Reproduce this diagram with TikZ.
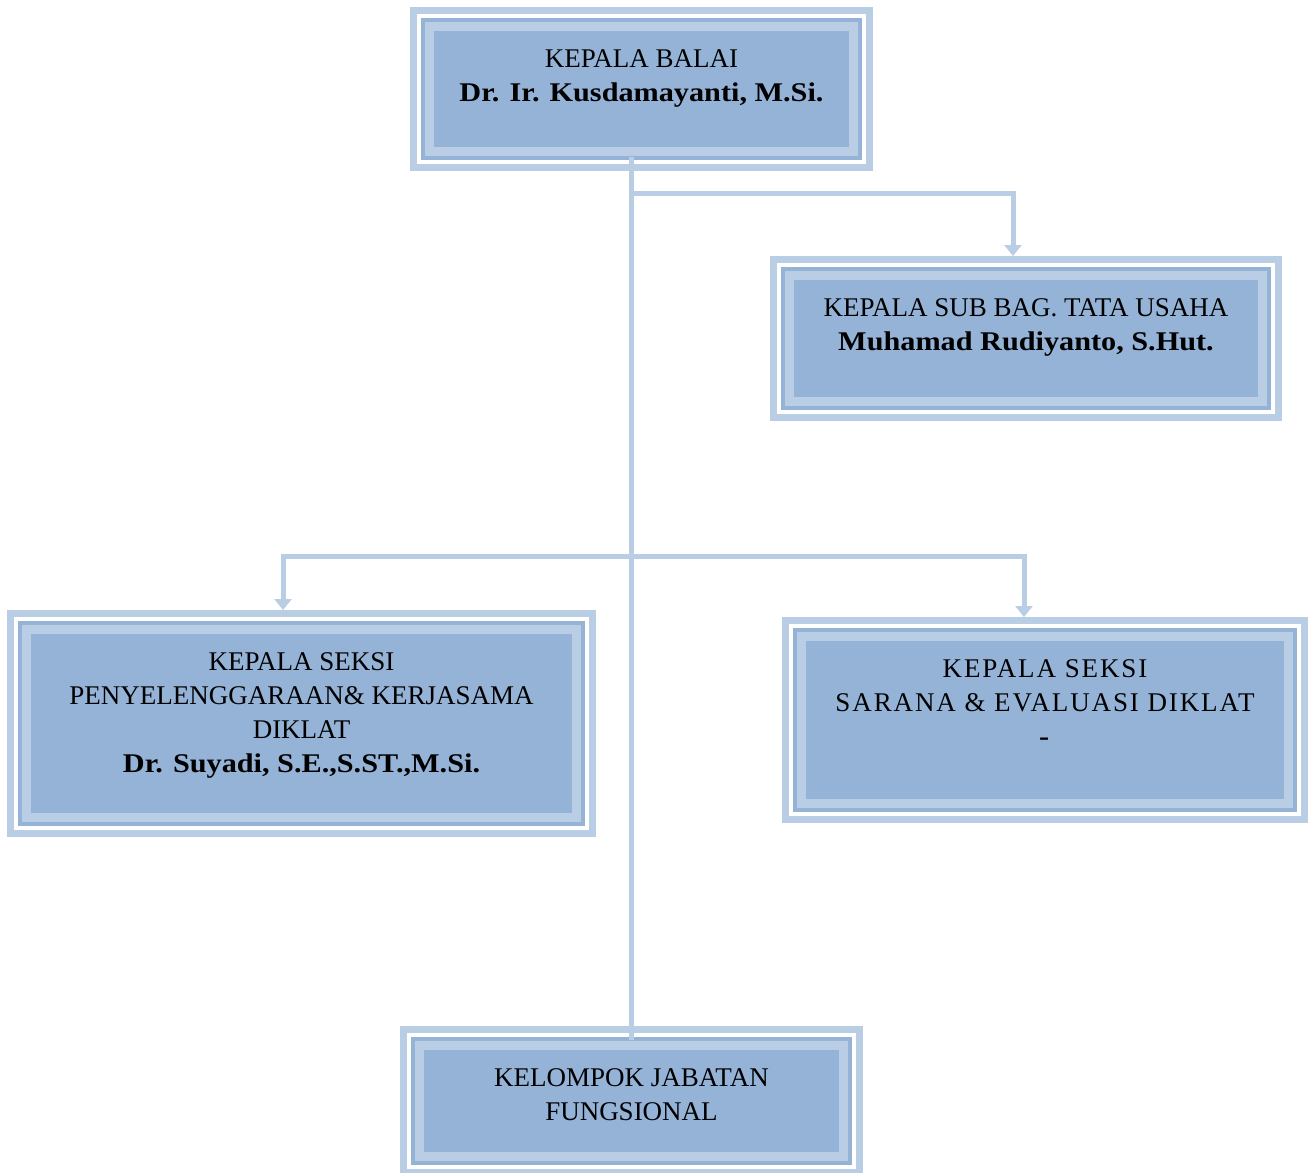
\documentclass[tikz,border=0pt]{standalone}
\usepackage{fontspec}
\setmainfont{Liberation Serif}[BoldFeatures={FakeStretch=1.12}]
\usetikzlibrary{positioning,arrows.meta}
\definecolor{bandlight}{HTML}{B9CDE5}
\definecolor{banddark}{HTML}{95B3D7}

% inner frames of a box
\newcommand{\orgframe}[1]{%
  \fill[white] ([shift={(7,7)}]#1.north west) rectangle ([shift={(-7,-7)}]#1.south east);
  \fill[banddark] ([shift={(11,11)}]#1.north west) rectangle ([shift={(-11,-11)}]#1.south east);
  \fill[bandlight] ([shift={(15,15)}]#1.north west) rectangle ([shift={(-15,-15)}]#1.south east);
  \fill[banddark] ([shift={(24,24)}]#1.north west) rectangle ([shift={(-24,-24)}]#1.south east);
}

\begin{document}
\begin{tikzpicture}[x=1pt, y=-1pt,
  orgbox/.style={fill=bandlight, inner sep=0pt, outer sep=0pt},
  txt/.style={inner sep=0pt, align=center, font=\fontsize{27}{34}\selectfont},
  txtwide/.style={txt, font=\fontsize{27}{34}\selectfont\addfontfeatures{LetterSpace=7}},
  conn/.style={draw=bandlight, line width=5pt},
  arr/.style={-{Triangle[width=17pt,length=11pt]}}]
  \useasboundingbox (0,0) rectangle (1315,1173);
  \clip (0,0) rectangle (1315,1173);

  \node[orgbox, minimum width=463, minimum height=164] (kb) at (641.5,89) {};
  \node[orgbox, minimum width=512, minimum height=165] (sbtu) at (1026,338.5) {};
  \node[orgbox, minimum width=589, minimum height=227] (sps) at (301.5,723.5) {};
  \node[orgbox, minimum width=526, minimum height=206] (sse) at (1045,720) {};
  \node[orgbox, minimum width=463, minimum height=150] (kjf) at (631.5,1101) {};
  \orgframe{kb}
  \orgframe{sbtu}
  \orgframe{sps}
  \orgframe{sse}
  \orgframe{kjf}

  \node[txt, below=42pt of kb.north] (kb-t) {KEPALA BALAI\\\textbf{Dr. Ir. Kusdamayanti, M.Si.}};
  \node[txt, below=42pt of sbtu.north] (sbtu-t) {KEPALA SUB BAG. TATA USAHA\\\textbf{Muhamad Rudiyanto, S.Hut.}};
  \node[txt, below=42pt of sps.north] (sps-t) {KEPALA SEKSI\\PENYELENGGARAAN\& KERJASAMA\\DIKLAT\\\textbf{Dr. Suyadi, S.E.,S.ST.,M.Si.}};
  \node[txtwide, below=42pt of sse.north] (sse-t) {KEPALA SEKSI\\SARANA \& EVALUASI DIKLAT\\\textbf{-}};
  \node[txt, below=42pt of kjf.north] (kjf-t) {KELOMPOK JABATAN\\FUNGSIONAL};

  \coordinate (j1) at (631,193);
  \coordinate (j2) at (631,556);
  \draw[conn] (kb.south -| j1) ++(0,-14) -- (kjf.north -| j1) -- ++(0,14);
  \draw[conn, arr] (j1) -| ([xshift=-13pt]sbtu.north);
  \draw[conn, arr] (j2) -| ([xshift=-18.5pt]sps.north);
  \draw[conn, arr] (j2) -| ([xshift=-21pt]sse.north);
\end{tikzpicture}
\end{document}
